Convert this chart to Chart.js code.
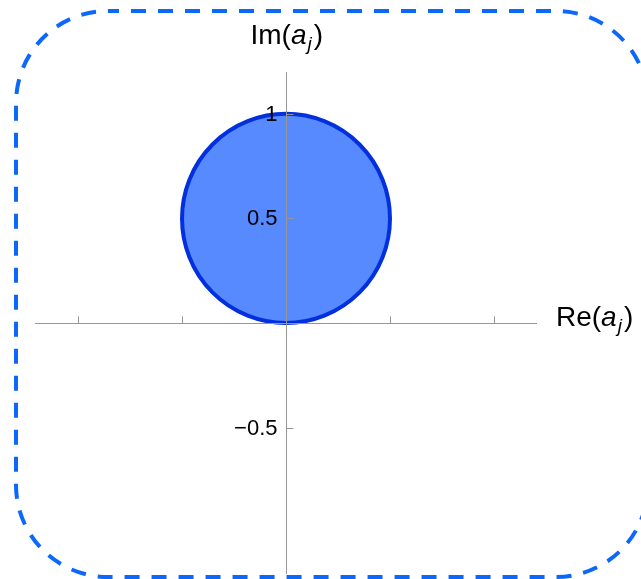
<!DOCTYPE html>
<html>
<head>
<meta charset="utf-8">
<script src="https://cdn.jsdelivr.net/npm/chart.js@4.4.1/dist/chart.umd.min.js"></script>
<style>
  html, body { margin: 0; padding: 0; background: #ffffff; }
  canvas { display: block; }
</style>
</head>
<body>
<canvas id="plot" width="641" height="579"></canvas>
<script>
// Region |a - i/2| <= 1/2 in the complex plane
const regionCenter = [0, 0.5];   // [Re, Im]
const regionRadius = [0.5];

// Axis ranges and ticks
const xRange = [-1.207, 1.207];
const yRange = [-1.2, 1.2];
const xTickValues = [-1, -0.5, 0.5, 1];
const yTickValues = [-0.5, 0.5, 1];
const yTickLabels = ['\u22120.5', '0.5', '1'];

const FONT = '"Liberation Sans", Arial, sans-serif';

// Draws a label such as "Im(a_j)" with an italic a and subscript j
function drawAxisTitle(ctx, prefix, x, baseline, size) {
  ctx.fillStyle = '#000';
  ctx.textAlign = 'left';
  ctx.textBaseline = 'alphabetic';
  let cx = x;
  ctx.font = size + 'px ' + FONT;
  ctx.fillText(prefix + '(', cx, baseline);
  cx += ctx.measureText(prefix + '(').width;
  ctx.font = 'italic ' + size + 'px ' + FONT;
  ctx.fillText('a', cx, baseline);
  cx += ctx.measureText('a').width;
  const sub = Math.round(size * 0.68);
  ctx.font = 'italic ' + sub + 'px ' + FONT;
  ctx.fillText('j', cx + 1, baseline + 6);
  cx += ctx.measureText('j').width + 3;
  ctx.font = size + 'px ' + FONT;
  ctx.fillText(')', cx, baseline);
}

const framePlugin = {
  id: 'frame',
  beforeDraw(chart) {
    const ctx = chart.ctx;
    ctx.save();
    ctx.strokeStyle = 'rgb(12,104,250)';
    ctx.lineWidth = 4;
    ctx.setLineDash([15, 12]);
    ctx.lineDashOffset = 4;
    ctx.beginPath();
    ctx.roundRect(16, 11, 632, 566, 92);
    ctx.stroke();
    ctx.restore();
  }
};

const regionPlugin = {
  id: 'region',
  afterDatasetsDraw(chart) {
    const ctx = chart.ctx;
    const xs = chart.scales.x, ys = chart.scales.y;
    const cx = xs.getPixelForValue(regionCenter[0]);
    const cy = ys.getPixelForValue(regionCenter[1]);
    const rx = Math.abs(xs.getPixelForValue(regionCenter[0] + regionRadius[0]) - cx);
    const ry = Math.abs(ys.getPixelForValue(regionCenter[1] + regionRadius[0]) - cy);

    ctx.save();
    // disk
    ctx.beginPath();
    ctx.ellipse(cx, cy, rx, ry, 0, 0, Math.PI * 2);
    ctx.fillStyle = 'rgb(87,137,255)';
    ctx.fill();
    ctx.lineWidth = 4;
    ctx.strokeStyle = 'rgb(2,48,222)';
    ctx.stroke();

    // axes through the origin
    const x0 = Math.round(xs.getPixelForValue(0)) + 0.5;
    const y0 = Math.round(ys.getPixelForValue(0)) + 0.5;
    const area = chart.chartArea;
    ctx.strokeStyle = 'rgb(150,150,150)';
    ctx.lineWidth = 1;
    ctx.beginPath();
    ctx.moveTo(area.left, y0); ctx.lineTo(area.right, y0);
    ctx.moveTo(x0, area.top); ctx.lineTo(x0, area.bottom);
    xTickValues.forEach(v => {
      const px = Math.round(xs.getPixelForValue(v)) + 0.5;
      ctx.moveTo(px, y0); ctx.lineTo(px, y0 - 7);
    });
    yTickValues.forEach(v => {
      const py = Math.round(ys.getPixelForValue(v)) + 0.5;
      ctx.moveTo(x0, py); ctx.lineTo(x0 + 7, py);
    });
    ctx.stroke();

    // y tick labels
    ctx.fillStyle = '#000';
    ctx.font = '22px ' + FONT;
    ctx.textAlign = 'right';
    ctx.textBaseline = 'middle';
    yTickValues.forEach((v, i) => {
      ctx.fillText(yTickLabels[i], x0 - 9, ys.getPixelForValue(v) + 1);
    });

    // axis titles
    drawAxisTitle(ctx, 'Im', x0 - 36, 44, 28);
    drawAxisTitle(ctx, 'Re', area.right + 19, y0 + 2, 28);
    ctx.restore();
  }
};

new Chart(document.getElementById('plot'), {
  type: 'scatter',
  data: {
    datasets: [{
      label: 'center',
      data: [{ x: regionCenter[0], y: regionCenter[1] }],
      pointRadius: 0
    }]
  },
  options: {
    responsive: false,
    animation: false,
    devicePixelRatio: 1,
    layout: { padding: { left: 35, right: 104, top: 72, bottom: 5 } },
    plugins: { legend: { display: false }, tooltip: { enabled: false } },
    scales: {
      x: { type: 'linear', min: xRange[0], max: xRange[1], display: false },
      y: { type: 'linear', min: yRange[0], max: yRange[1], display: false }
    }
  },
  plugins: [framePlugin, regionPlugin]
});
</script>
</body>
</html>
